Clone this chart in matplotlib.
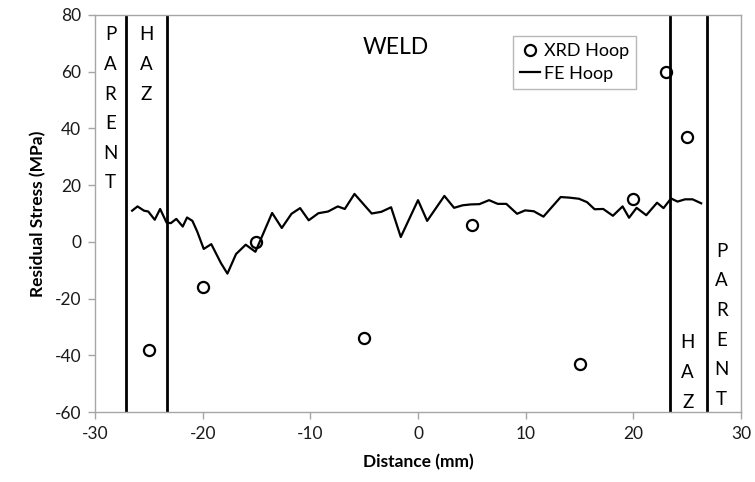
import numpy as np
import matplotlib
matplotlib.use('Agg')
import matplotlib.pyplot as plt

plt.rcParams['font.family'] = ['Lato', 'DejaVu Sans']
plt.rcParams['axes.unicode_minus'] = False

# XRD hoop measurements
xrd_x = [-25, -20, -15, -5, 5, 15, 20, 23, 25]
xrd_y = [-38, -16, 0, -34, 6, -43, 15, 60, 37]

# FE hoop profile
fe_x = [-26.55, -26.05, -25.45, -25.05, -24.45, -23.95, -23.35, -22.95, -22.45, -21.85,
        -21.45, -20.95, -20.5, -19.9, -19.2, -18.3, -17.7, -16.9, -16.0, -15.1,
        -13.55, -12.65, -11.75, -10.95, -10.15, -9.25, -8.35, -7.45, -6.8, -5.9,
        -4.3, -3.4, -2.5, -1.6, 0.0, 0.85, 2.45, 3.35, 4.15, 4.9,
        5.7, 6.6, 7.4, 8.2, 9.2, 9.95, 10.75, 11.65, 13.25, 14.05,
        14.95, 15.7, 16.4, 17.2, 18.1, 19.0, 19.6, 20.3, 21.2, 22.2,
        22.8, 23.5, 24.1, 24.8, 25.5, 26.3]
fe_y = [11.0, 12.5, 11.0, 10.7, 7.8, 11.6, 6.8, 6.6, 8.1, 5.4,
        8.6, 7.4, 3.6, -2.5, -0.8, -7.5, -11.2, -4.3, -1.0, -3.5,
        10.2, 4.9, 9.9, 11.9, 7.6, 10.1, 10.7, 12.5, 11.6, 16.9,
        10.0, 10.6, 12.2, 1.7, 14.7, 7.4, 16.2, 12.0, 12.9, 13.2,
        13.3, 14.7, 13.4, 13.4, 9.9, 11.1, 10.8, 8.9, 15.8, 15.6,
        15.2, 14.0, 11.5, 11.6, 9.2, 12.5, 8.5, 12.0, 9.4, 13.8,
        11.9, 15.3, 14.2, 15.0, 15.0, 13.6]

# zone boundaries
bounds = [-27.1, -23.35, 23.4, 26.8]

fig = plt.figure(figsize=(7.55, 4.82), dpi=100)
ax = fig.add_axes([0.1258, 0.1452, 0.8557, 0.8237])

ax.plot(xrd_x, xrd_y, 'o', mfc='none', mec='black', ms=8, mew=1.6,
        label='XRD Hoop', zorder=4)
ax.plot(fe_x, fe_y, '-', color='black', lw=1.6, label='FE Hoop', zorder=3)
for b in bounds:
    ax.axvline(b, color='black', lw=2.0, zorder=2)

ax.set_xlim(-30, 30)
ax.set_ylim(-60, 80)
ax.set_xticks(np.arange(-30, 31, 10))
ax.set_yticks(np.arange(-60, 81, 20))

gray = '#a6a6a6'
for s in ax.spines.values():
    s.set_color(gray)
    s.set_linewidth(1.0)
ax.tick_params(direction='out', length=5, width=1.0, color=gray,
               labelsize=12.5, labelcolor='#1a1a1a', pad=5)

ax.set_xlabel('Distance (mm)', fontsize=12.5, fontweight='bold', labelpad=9)
ax.set_ylabel('Residual Stress (MPa)', fontsize=12.5, fontweight='bold', labelpad=6)

zone_kw = dict(ha='center', va='top', fontsize=13.5, linespacing=1.9, color='black')
ax.text(-28.55, 76.0, 'P\nA\nR\nE\nN\nT', **zone_kw)
ax.text(-25.2, 76.0, 'H\nA\nZ', **zone_kw)
ax.text(28.2, -0.3, 'P\nA\nR\nE\nN\nT', **zone_kw)
ax.text(25.05, -32.6, 'H\nA\nZ', **zone_kw)
ax.text(-2.05, 68.4, 'WELD', ha='center', va='center', fontsize=16.5)

leg = ax.legend(loc='upper left', bbox_to_anchor=(0.647, 0.948), fontsize=13,
                frameon=True, fancybox=False, handlelength=1.1, handletextpad=0.2,
                borderpad=0.4, labelspacing=0.38, borderaxespad=0)
leg.get_frame().set_edgecolor(gray)
leg.get_frame().set_linewidth(1.0)

fig.savefig('out.png', dpi=100)
